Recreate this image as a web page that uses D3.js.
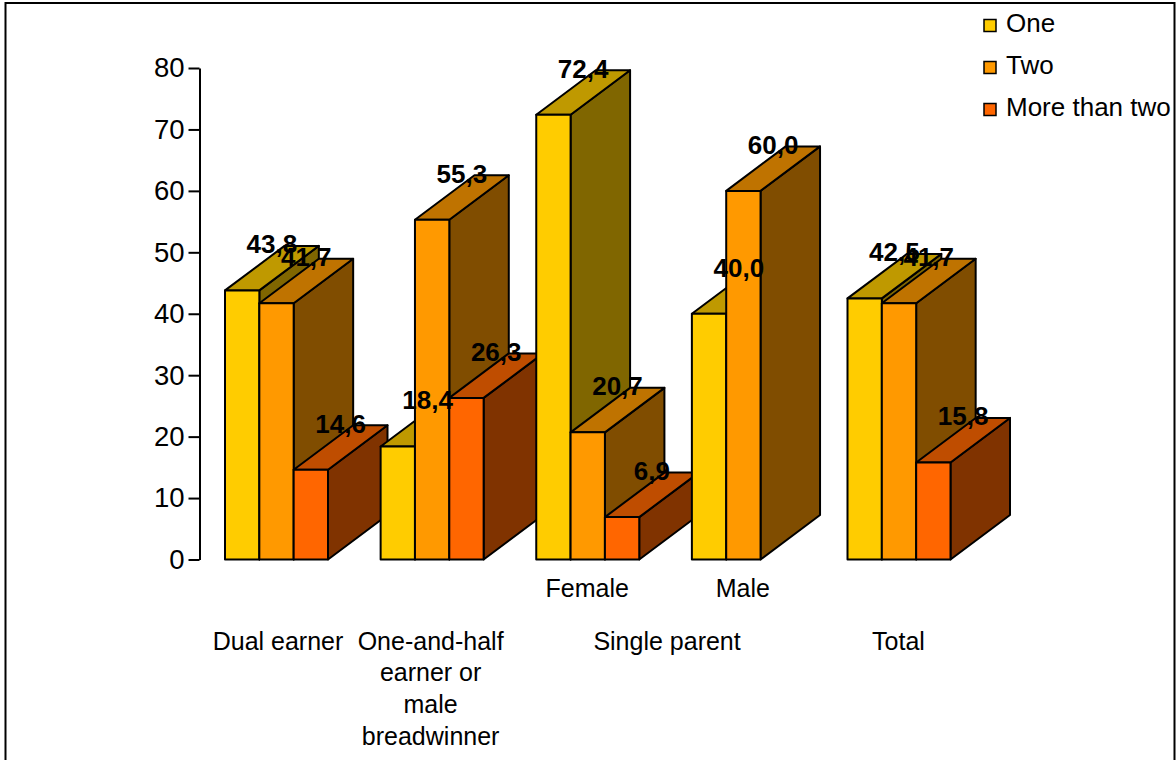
<!DOCTYPE html>
<html>
<head>
<meta charset="utf-8">
<style>
  html, body { margin: 0; padding: 0; background: #fff; }
  svg { display: block; font-family: "Liberation Sans", Arial, sans-serif; }
</style>
<script src="https://cdn.jsdelivr.net/npm/d3@7/dist/d3.min.js"></script>
</head>
<body>
<svg id="chart" width="1176" height="760"></svg>
<script>
// Household types along the axis
const categories = ["Dual earner", "One-and-half", "Female", "Male", "Total"];
// Number of children series, null where no value exists
const seriesNames = ["One", "Two", "More than two"];
const one = [43.8, 18.4, 72.4, 40.0, 42.5];
const two = [41.7, 55.3, 20.7, 60.0, 41.7];
const moreThanTwo = [14.6, 26.3, 6.9, null, 15.8];
const yTicks = [0, 10, 20, 30, 40, 50, 60, 70, 80];
const subLabels = [["Female", "Female"], ["Male", "Male"]];
const groupLabels = [
  { at: ["Dual earner"], lines: ["Dual earner"], shift: 1 },
  { at: ["One-and-half"], lines: ["One-and-half", "earner or", "male", "breadwinner"], shift: -2 },
  { at: ["Female", "Male"], lines: ["Single parent"], shift: 1 },
  { at: ["Total"], lines: ["Total"], shift: -1 }
];
// Front, top and side shades for each series
const frontColors = ["#FFCC00", "#FF9900", "#FF6600"];
const topColors = ["#BF9900", "#BF7300", "#BF4D00"];
const sideColors = ["#806600", "#804D00", "#803300"];

const depthX = 59.5, depthY = 44.5;
const svg = d3.select("#chart");

// Outer frame, its bottom edge running off the page
svg.append("path")
  .attr("d", "M5.5,760V3H1174.5V760")
  .attr("fill", "none").attr("stroke", "#000").attr("stroke-width", 2);

const y = d3.scaleLinear().domain([0, 80]).range([559.5, 68]);
const x0 = d3.scalePoint().domain(categories).range([225, 847.5]);
const x1 = d3.scaleBand().domain(seriesNames).range([0, 103]);

const axis = d3.axisLeft(y).tickValues(yTicks).tickSize(11).tickSizeOuter(0).tickPadding(4)
  .tickFormat(d3.format("d"));
const axisG = svg.append("g").attr("transform", "translate(199.5,0)").call(axis);
axisG.selectAll("line,path").attr("stroke", "#000").attr("stroke-width", 2);
axisG.selectAll("text").attr("font-size", 27.5).attr("fill", "#000")
  .attr("font-family", "'Liberation Sans', Arial, sans-serif");

const seriesValues = [one, two, moreThanTwo];
const labelData = [];

// Groups are painted left to right so nearer bars overlap the depth of earlier ones
categories.forEach((cat, c) => {
  const g = svg.append("g").attr("class", "group");
  seriesNames.forEach((name, s) => {
    const v = seriesValues[s][c];
    if (v === null) return;
    const l = x0(cat) + x1(name), r = l + x1.bandwidth();
    const t = y(v), b = y(0);
    const pts = a => a.map(p => p.join(",")).join(" ");
    const common = sel => sel.attr("stroke", "#000").attr("stroke-width", 2).attr("stroke-linejoin", "round");
    g.append("polygon").call(common).attr("fill", sideColors[s])
      .attr("points", pts([[r, t], [r + depthX, t - depthY], [r + depthX, b - depthY], [r, b]]));
    g.append("polygon").call(common).attr("fill", topColors[s])
      .attr("points", pts([[l, t], [l + depthX, t - depthY], [r + depthX, t - depthY], [r, t]]));
    g.append("polygon").call(common).attr("fill", frontColors[s])
      .attr("points", pts([[l, t], [r, t], [r, b], [l, b]]));
    labelData.push({ v, cx: (l + r) / 2 + depthX / 2, y: t - 37 });
  });
});

// Value labels sit above every bar, with a decimal comma
svg.append("g").selectAll("text").data(labelData).join("text")
  .attr("x", d => d.cx).attr("y", d => d.y)
  .attr("text-anchor", "middle").attr("font-size", 26).attr("font-weight", "bold")
  .attr("fill", "#000")
  .text(d => d.v.toFixed(1).replace(".", ","));

const groupCentre = cat => x0(cat) + 52;

svg.append("g").selectAll("text").data(subLabels).join("text")
  .attr("x", d => groupCentre(d[0]) - 1).attr("y", 597)
  .attr("text-anchor", "middle").attr("font-size", 25).attr("fill", "#000")
  .text(d => d[1]);

const lineBaselines = [650, 681, 713, 745];
groupLabels.forEach(gl => {
  const cx = d3.mean(gl.at, groupCentre) + gl.shift;
  svg.append("text")
    .attr("text-anchor", "middle").attr("font-size", 25).attr("fill", "#000")
    .selectAll("tspan").data(gl.lines).join("tspan")
    .attr("x", cx).attr("y", (d, i) => lineBaselines[i]).text(d => d);
});

// Legend in the top right corner
const legendRows = [32, 74, 116];
const legend = svg.append("g").selectAll("g").data(seriesNames).join("g");
legend.append("rect")
  .attr("x", 984).attr("y", (d, i) => legendRows[i] - 12.5)
  .attr("width", 12).attr("height", 12)
  .attr("fill", (d, i) => frontColors[i]).attr("stroke", "#000").attr("stroke-width", 1.5);
legend.append("text")
  .attr("x", 1006).attr("y", (d, i) => legendRows[i])
  .attr("font-size", 26).attr("fill", "#000").text(d => d);
</script>
</body>
</html>
